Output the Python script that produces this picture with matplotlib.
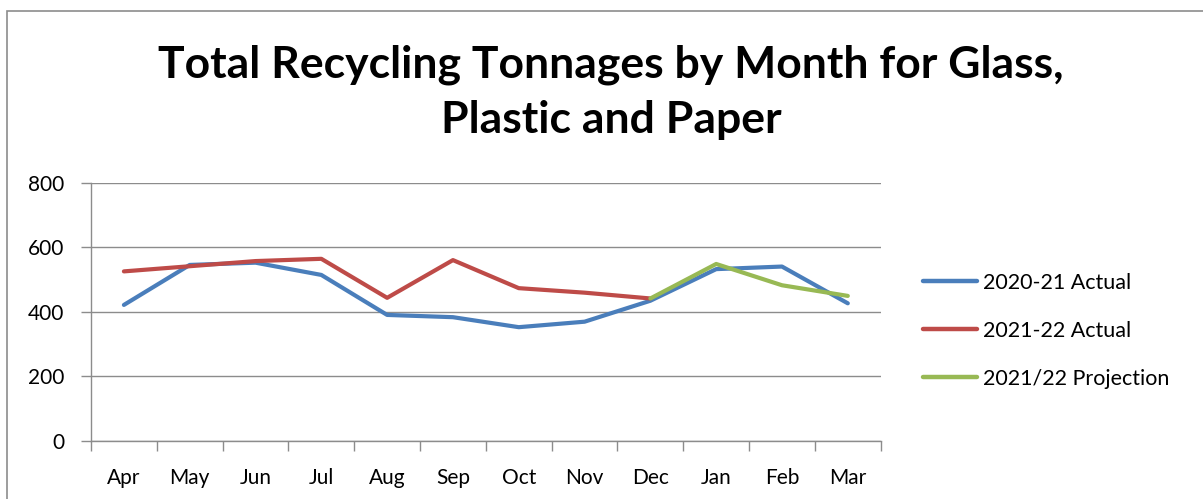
import matplotlib
matplotlib.use("Agg")
import matplotlib.pyplot as plt
from matplotlib.patches import Rectangle

months = ["Apr", "May", "Jun", "Jul", "Aug", "Sep", "Oct", "Nov", "Dec", "Jan", "Feb", "Mar"]
actual_2020_21 = [421, 545, 552, 514, 390, 383, 352, 369, 434, 532, 540, 426]
actual_2021_22 = [525, 541, 557, 564, 443, 560, 473, 459, 441]
projection_2021_22 = [441, 548, 482, 449]
projection_start = 8  # Dec

y_ticks = [0, 200, 400, 600, 800]

plt.rcParams["font.family"] = ["Lato", "DejaVu Sans"]

W, H = 1203, 499
fig = plt.figure(figsize=(W / 100, H / 100), dpi=100)
ax = fig.add_axes([91 / W, 1 - 440.7 / H, (880.7 - 91) / W, (440.7 - 182.7) / H])

# outer chart frame
fig.patches.append(Rectangle((7 / W, -0.1), 1.2, 1 - 11.5 / H + 0.1,
                             transform=fig.transFigure, fill=False,
                             edgecolor="#8c8c8c", linewidth=1.2))

x = list(range(len(months)))
lw = 3.0
style = dict(lw=lw, solid_capstyle="round", solid_joinstyle="round")
ax.plot(x, actual_2020_21, color="#4A7EBB", label="2020-21 Actual", **style)
ax.plot(x[:len(actual_2021_22)], actual_2021_22, color="#BE4B48",
        label="2021-22 Actual", **style)
ax.plot(x[projection_start:projection_start + len(projection_2021_22)], projection_2021_22,
        color="#98B954", label="2021/22 Projection", **style)

ax.set_xlim(-0.5, len(months) - 0.5)
ax.set_ylim(0, 800)
ax.set_yticks(y_ticks)
ax.yaxis.grid(True, color="#8c8c8c", linewidth=1.0)
ax.set_axisbelow(True)

fs = 15
ax.set_xticks([i - 0.5 for i in range(len(months) + 1)])
ax.set_xticklabels([])
ax.set_xticks(x, minor=True)
ax.set_xticklabels(months, minor=True, fontsize=fs)
ax.tick_params(axis="x", which="minor", length=0, pad=20)
ax.tick_params(axis="x", which="major", length=7, width=1, color="#8c8c8c", direction="out")
ax.tick_params(axis="y", length=7, width=1, color="#8c8c8c", labelsize=fs, pad=12)

for side in ["top", "right"]:
    ax.spines[side].set_visible(False)
for side in ["left", "bottom"]:
    ax.spines[side].set_color("#8c8c8c")
    ax.spines[side].set_linewidth(1.0)

fig.text(611 / W, 1 - 78 / H, "Total Recycling Tonnages by Month for Glass,",
         ha="center", va="baseline", fontsize=32, fontweight="bold")
fig.text(611 / W, 1 - 133 / H, "Plastic and Paper",
         ha="center", va="baseline", fontsize=32, fontweight="bold")

leg = ax.legend(loc="center left", bbox_to_anchor=(1.029, 0.426), frameon=False,
                fontsize=15.5, handlelength=2.5, handletextpad=0.3, labelspacing=1.3)
for line in leg.get_lines():
    line.set_linewidth(3.2)

fig.savefig("out.png", dpi=100)
